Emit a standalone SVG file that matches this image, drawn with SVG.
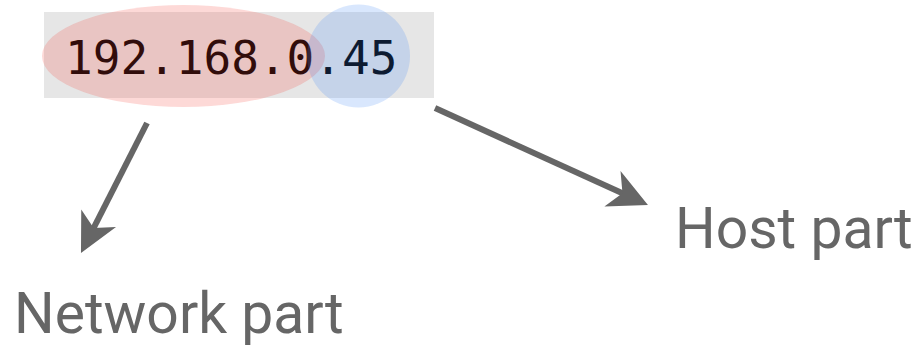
<svg xmlns="http://www.w3.org/2000/svg" width="917" height="346" viewBox="0 0 917 346">
  <style>
    .addr { font-family: "DejaVu Sans Mono", "Liberation Mono", monospace; font-size: 46px; fill: #000; }
    .label { font-family: Roboto, "Liberation Sans", sans-serif; font-size: 57px; fill: #666; }
    .conn { stroke: #666; stroke-width: 6; fill: none; }
  </style>
  <defs>
    <marker id="head" markerUnits="userSpaceOnUse" viewBox="-20 -25 50 50" markerWidth="50" markerHeight="50" refX="0" refY="0" orient="auto" overflow="visible">
      <path d="M25,0 L-14,-19.5 L-3,0 L-14,19.5 Z" fill="#666"/>
    </marker>
  </defs>

  <g id="address">
    <rect x="44" y="12" width="390" height="86" fill="#e6e6e6"/>
    <text class="addr" x="65" y="74">192.168.0.45</text>
    <ellipse id="network-mask" cx="183.5" cy="56" rx="141.5" ry="51" fill="#f44336" fill-opacity="0.2"/>
    <circle id="host-mask" cx="358.5" cy="56" r="51.5" fill="#4285f4" fill-opacity="0.2"/>
  </g>

  <g id="connectors">
    <line class="conn" x1="147" y1="123" x2="92.3" y2="230.7" marker-end="url(#head)"/>
    <line class="conn" x1="435" y1="108" x2="625.2" y2="194.6" marker-end="url(#head)"/>
  </g>

  <g id="network-part">
    <text class="label" x="14" y="333">Network part</text>
  </g>
  <g id="host-part">
    <text class="label" x="675" y="248">Host part</text>
  </g>
</svg>
